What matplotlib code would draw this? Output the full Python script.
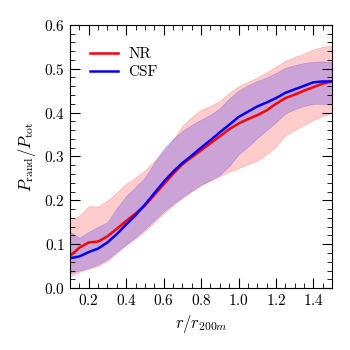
import matplotlib
matplotlib.use("Agg")
import matplotlib.pyplot as plt
from matplotlib.ticker import MultipleLocator

plt.rcParams["font.family"] = "serif"
plt.rcParams["font.serif"] = ["cmr10", "DejaVu Serif"]
plt.rcParams["mathtext.fontset"] = "cm"
plt.rcParams["axes.formatter.use_mathtext"] = True

# radius in units of r_200m
r = [0.10, 0.15, 0.20, 0.25, 0.30, 0.35, 0.40, 0.45, 0.50, 0.55,
     0.60, 0.65, 0.70, 0.75, 0.80, 0.85, 0.90, 0.95, 1.00, 1.05,
     1.10, 1.15, 1.20, 1.25, 1.30, 1.35, 1.40, 1.45, 1.50]

nr_med = [0.073, 0.092, 0.104, 0.106, 0.118, 0.135, 0.153, 0.170, 0.188, 0.212,
          0.236, 0.260, 0.282, 0.298, 0.314, 0.330, 0.346, 0.362, 0.375, 0.385,
          0.394, 0.405, 0.420, 0.433, 0.441, 0.450, 0.458, 0.466, 0.471]
nr_hi = [0.152, 0.165, 0.187, 0.186, 0.200, 0.218, 0.238, 0.252, 0.268, 0.290,
         0.312, 0.338, 0.370, 0.390, 0.407, 0.415, 0.427, 0.445, 0.460, 0.470,
         0.480, 0.492, 0.505, 0.518, 0.527, 0.535, 0.544, 0.550, 0.553]
nr_lo = [0.026, 0.037, 0.044, 0.050, 0.062, 0.080, 0.098, 0.113, 0.130, 0.150,
         0.170, 0.188, 0.205, 0.220, 0.234, 0.245, 0.255, 0.265, 0.273, 0.282,
         0.290, 0.305, 0.322, 0.348, 0.360, 0.372, 0.383, 0.392, 0.400]

csf_med = [0.068, 0.072, 0.082, 0.090, 0.104, 0.123, 0.145, 0.166, 0.190, 0.216,
           0.242, 0.265, 0.285, 0.302, 0.320, 0.337, 0.355, 0.372, 0.390, 0.402,
           0.414, 0.423, 0.433, 0.445, 0.453, 0.461, 0.469, 0.471, 0.471]
csf_hi = [0.128, 0.115, 0.128, 0.140, 0.150, 0.182, 0.210, 0.230, 0.252, 0.285,
          0.318, 0.340, 0.358, 0.372, 0.384, 0.395, 0.410, 0.432, 0.450, 0.462,
          0.472, 0.480, 0.490, 0.502, 0.508, 0.513, 0.516, 0.517, 0.515]
csf_lo = [0.034, 0.040, 0.046, 0.054, 0.066, 0.083, 0.100, 0.116, 0.135, 0.155,
          0.175, 0.192, 0.208, 0.222, 0.236, 0.246, 0.258, 0.278, 0.305, 0.322,
          0.342, 0.360, 0.378, 0.398, 0.408, 0.415, 0.420, 0.420, 0.418]

fig = plt.figure(figsize=(3.5, 3.5), dpi=100)
ax = fig.add_axes([0.2, 0.177, 0.749, 0.752])

ax.fill_between(r, nr_lo, nr_hi, color="red", alpha=0.2, lw=0.5)
ax.fill_between(r, csf_lo, csf_hi, color="blue", alpha=0.2, lw=0.5)
ax.plot(r, nr_med, color="red", lw=1.8, label="NR")
ax.plot(r, csf_med, color="blue", lw=1.8, label="CSF")

ax.set_xlim(0.1, 1.5)
ax.set_ylim(0.0, 0.6)
ax.xaxis.set_major_locator(MultipleLocator(0.2))
ax.xaxis.set_minor_locator(MultipleLocator(0.05))
ax.yaxis.set_major_locator(MultipleLocator(0.1))
ax.yaxis.set_minor_locator(MultipleLocator(0.02))
ax.tick_params(which="both", direction="in", top=True, right=True, labelsize=11)
ax.tick_params(which="major", length=7, width=0.8)
ax.tick_params(which="minor", length=3.5, width=0.6)

ax.set_xlabel(r"$r/r_{200m}$", fontsize=12)
ax.set_ylabel(r"$P_{\rm rand}/P_{\rm tot}$", fontsize=12)
ax.legend(loc="upper left", bbox_to_anchor=(0.076, 0.915), borderaxespad=0,
          borderpad=0, frameon=False, fontsize=11, handlelength=1.85,
          handletextpad=0.65, labelspacing=0.3)

fig.savefig("out.png", dpi=100)
